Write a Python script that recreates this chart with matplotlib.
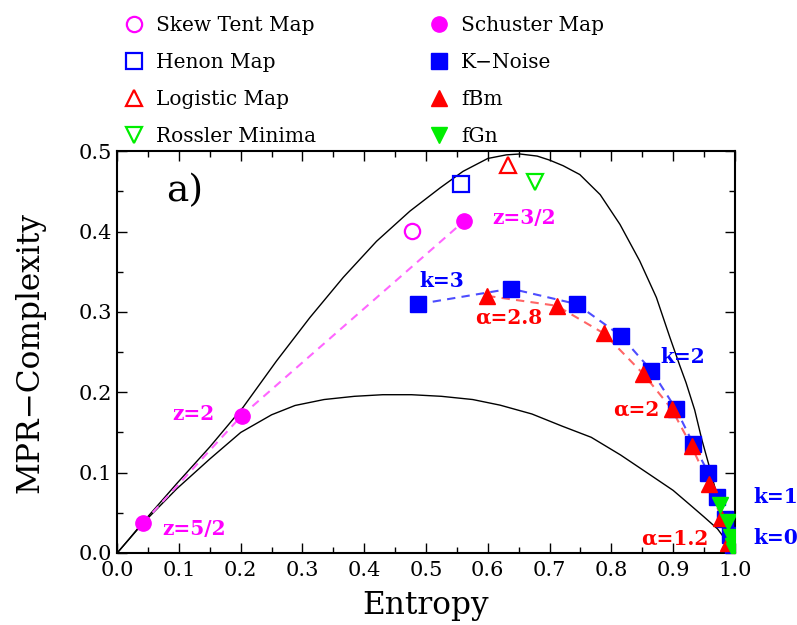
"""Complexity-entropy plane: MPR statistical complexity versus normalized
permutation entropy for chaotic maps and stochastic noises."""

import matplotlib

matplotlib.use("Agg")
import matplotlib.pyplot as plt
from matplotlib.lines import Line2D

# Theoretical bounds
upper_h = [0.0, 0.02, 0.0415, 0.0966, 0.150, 0.204, 0.258, 0.312, 0.366, 0.420,
           0.474, 0.523, 0.560, 0.600, 0.630, 0.652, 0.680, 0.700, 0.722, 0.749,
           0.782, 0.814, 0.846, 0.873, 0.895, 0.911, 0.921, 0.935, 0.9466, 0.960,
           0.9725, 0.985, 0.995, 1.0]
upper_c = [0.0, 0.018, 0.038, 0.0865, 0.132, 0.1815, 0.239, 0.293, 0.343, 0.388,
           0.4255, 0.4545, 0.475, 0.491, 0.4955, 0.4966, 0.494, 0.489, 0.482, 0.471,
           0.446, 0.409, 0.3635, 0.318, 0.268, 0.233, 0.212, 0.178, 0.141, 0.104,
           0.0675, 0.030, 0.008, 0.0]
lower_h = [0.0, 0.0416, 0.0966, 0.150, 0.200, 0.250, 0.288, 0.335, 0.384, 0.430,
           0.4765, 0.525, 0.5756, 0.620, 0.6715, 0.720, 0.7675, 0.815, 0.8634, 0.900,
           0.9274, 0.950, 0.972, 0.9875, 1.0]
lower_c = [0.0, 0.037, 0.080, 0.117, 0.150, 0.172, 0.1836, 0.191, 0.195, 0.197,
           0.197, 0.195, 0.191, 0.184, 0.173, 0.158, 0.144, 0.122, 0.097, 0.078,
           0.060, 0.045, 0.030, 0.014, 0.0]

# Chaotic maps
skew_tent = (0.477, 0.401)
henon = (0.557, 0.459)
logistic = (0.632, 0.4835)
rossler = (0.676, 0.462)
schuster_h = [0.0415, 0.2017, 0.5615]
schuster_c = [0.037, 0.171, 0.413]

# Stochastic processes
knoise_h = [0.4876, 0.6375, 0.744, 0.815, 0.865, 0.9045, 0.9326, 0.957, 0.9714,
            0.984, 0.992, 0.997, 0.9995]
knoise_c = [0.3098, 0.329, 0.3098, 0.2705, 0.227, 0.1795, 0.136, 0.100, 0.070,
            0.042, 0.022, 0.008, 0.002]
fbm_h = [0.599, 0.7115, 0.788, 0.8517, 0.8975, 0.930, 0.9585, 0.9775, 0.9885]
fbm_c = [0.320, 0.3077, 0.2733, 0.223, 0.1795, 0.1328, 0.0855, 0.044, 0.013]
fgn_h = [0.9757, 0.9896, 0.9946, 0.997, 0.999]
fgn_c = [0.0596, 0.039, 0.020, 0.009, 0.003]

MAGENTA = "#ff00ff"
BLUE = "#0000ff"
RED = "#ff0000"
GREEN = "#00ee00"

plt.rcParams["font.family"] = ["DejaVu Serif", "DejaVu Sans"]

fig = plt.figure(figsize=(7.97, 6.25), dpi=100)
ax = fig.add_axes([0.147, 0.1152, 0.775, 0.6428])

# Bounds
ax.plot(upper_h, upper_c, color="black", lw=1.0, zorder=2)
ax.plot(lower_h, lower_c, color="black", lw=1.0, zorder=2)

# Dashed connecting lines
ax.plot(schuster_h, schuster_c, color="#ff66ff", lw=1.5, ls=(0, (4, 3)), zorder=3)
ax.plot(knoise_h, knoise_c, color="#4d4dff", lw=1.5, ls=(0, (4, 3)), zorder=3)
ax.plot(fbm_h, fbm_c, color="#ff6666", lw=1.5, ls=(0, (4, 3)), zorder=3)

# Markers
ax.plot(*skew_tent, marker="o", ms=11, mfc="none", mec=MAGENTA, mew=1.6, ls="none", zorder=4)
ax.plot(*henon, marker="s", ms=11, mfc="none", mec=BLUE, mew=1.6, ls="none", zorder=4)
ax.plot(*logistic, marker="^", ms=12, mfc="none", mec=RED, mew=1.6, ls="none", zorder=4)
ax.plot(*rossler, marker="v", ms=12, mfc="none", mec=GREEN, mew=1.6, ls="none", zorder=4)
ax.plot(schuster_h, schuster_c, marker="o", ms=11, color=MAGENTA, ls="none", zorder=4)
ax.plot(knoise_h, knoise_c, marker="s", ms=11, color=BLUE, ls="none", zorder=4)
ax.plot(fbm_h, fbm_c, marker="^", ms=12, color=RED, ls="none", zorder=5)
ax.plot(fgn_h, fgn_c, marker="v", ms=12, color=GREEN, ls="none", zorder=6)

# Annotations
lab = dict(fontsize=14.5, fontweight="bold", va="center", ha="left")
ax.text(0.608, 0.417, "z=3/2", color=MAGENTA, **lab)
ax.text(0.0885, 0.173, "z=2", color=MAGENTA, **lab)
ax.text(0.0723, 0.030, "z=5/2", color=MAGENTA, **lab)
ax.text(0.490, 0.3387, "k=3", color=BLUE, **lab)
ax.text(0.879, 0.2436, "k=2", color=BLUE, **lab)
ax.text(1.03, 0.070, "k=1", color=BLUE, clip_on=False, **lab)
ax.text(1.03, 0.0186, "k=0", color=BLUE, clip_on=False, **lab)
ax.text(0.579, 0.293, "\u03b1=2.8", color=RED, **lab)
ax.text(0.803, 0.178, "\u03b1=2", color=RED, **lab)
ax.text(0.849, 0.018, "\u03b1=1.2", color=RED, **lab)
ax.text(0.11, 0.45, "a)", fontsize=27, va="center", ha="center")

# Axes
ax.set_xlim(0.0, 1.0)
ax.set_ylim(0.0, 0.5)
ax.set_xticks([i / 10 for i in range(11)])
ax.set_yticks([i / 10 for i in range(6)])
ax.set_xticks([0.05 + i / 10 for i in range(10)], minor=True)
ax.set_yticks([0.05 + i / 10 for i in range(5)], minor=True)
ax.tick_params(which="both", direction="in", top=True, right=True, labelsize=15)
ax.tick_params(which="major", length=7, width=1.0)
ax.tick_params(which="minor", length=4, width=1.0)
ax.tick_params(axis="x", which="major", pad=6)
for spine in ax.spines.values():
    spine.set_linewidth(1.5)
ax.set_xlabel("Entropy", fontsize=22.5, labelpad=7)
ax.set_ylabel("MPR\u2212Complexity", fontsize=22.5, labelpad=24)

# Legend above the axes
handles = [
    Line2D([], [], marker="o", ms=11, mfc="none", mec=MAGENTA, mew=1.6, ls="none"),
    Line2D([], [], marker="s", ms=11, mfc="none", mec=BLUE, mew=1.6, ls="none"),
    Line2D([], [], marker="^", ms=12, mfc="none", mec=RED, mew=1.6, ls="none"),
    Line2D([], [], marker="v", ms=12, mfc="none", mec=GREEN, mew=1.6, ls="none"),
    Line2D([], [], marker="o", ms=11, color=MAGENTA, ls="none"),
    Line2D([], [], marker="s", ms=11, color=BLUE, ls="none"),
    Line2D([], [], marker="^", ms=12, color=RED, ls="none"),
    Line2D([], [], marker="v", ms=12, color=GREEN, ls="none"),
]
labels = ["Skew Tent Map", "Henon Map", "Logistic Map", "Rossler Minima",
          "Schuster Map", "K\u2212Noise", "fBm", "fGn"]
fig.legend(handles, labels, ncol=2, loc="upper left", bbox_to_anchor=(0.135, 1.0),
           frameon=False, fontsize=14.5, handlelength=1.0, handletextpad=0.6,
           labelspacing=0.9, columnspacing=5.6, borderpad=0.3)

fig.savefig("out.png", dpi=100)
